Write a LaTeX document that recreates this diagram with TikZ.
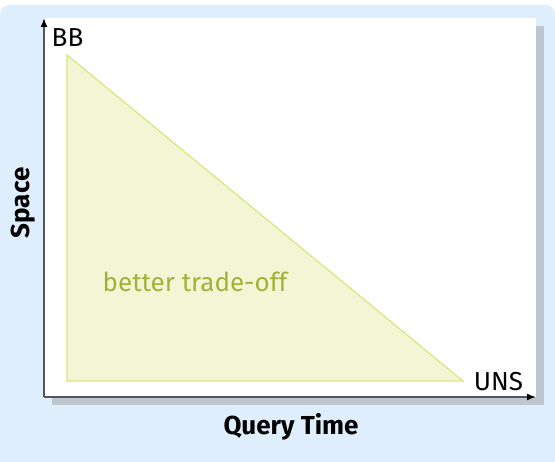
\documentclass[tikz,border=0pt]{standalone}
\usepackage{fontspec}
\setmainfont{Fira Sans}
\usetikzlibrary{arrows.meta}
\definecolor{bgblue}{RGB}{222,238,252}
\definecolor{shadowgray}{RGB}{190,198,207}
\definecolor{axisgray}{RGB}{80,86,94}
\definecolor{trifill}{RGB}{242,246,213}
\definecolor{triline}{RGB}{216,230,122}
\definecolor{tritext}{RGB}{163,178,54}
\tikzset{
  lbl/.style={font=\fontsize{26}{30}\selectfont, inner sep=0pt},
  axlbl/.style={font=\fontsize{26}{30}\selectfont\bfseries, inner sep=0pt},
  axisline/.style={draw=axisgray, line width=1.6pt, -{Latex[length=9pt,width=7pt,black]}},
}
\begin{document}
\begin{tikzpicture}[x=1pt,y=-1pt]
\useasboundingbox (0,0) rectangle (555,462);
\clip (0,0) rectangle (555,462);
% background
\fill[bgblue, rounded corners=9pt] (0,5) rectangle (555,480);
% shadow and plot area
\fill[shadowgray] (52,26) rectangle (544,405);
\fill[white] (44,18) rectangle (536,397);
% triangle
\coordinate (tA) at (67,55);
\coordinate (tB) at (67,381);
\coordinate (tC) at (463,381);
\filldraw[fill=trifill, draw=triline, line width=1.2pt, line join=miter] (tA) -- (tB) -- (tC) -- cycle;
% axes
\coordinate (origin) at (44,397);
\coordinate (ytop) at (44,18);
\coordinate (xend) at (536,397);
\draw[axisline] (origin) -- (ytop);
\draw[axisline] (origin) -- (xend);
% labels
\node[lbl, anchor=base] (bb) at (67.5,47) {BB};
\node[lbl, anchor=base] (uns) at (498.5,391) {UNS};
\node[lbl, anchor=base, text=tritext] (better) at (195,292) {better trade-off};
\node[axlbl, anchor=base] (qt) at (291,435) {Query Time};
\node[axlbl, anchor=base, rotate=90] (sp) at (29,203) {Space};
\end{tikzpicture}
\end{document}
